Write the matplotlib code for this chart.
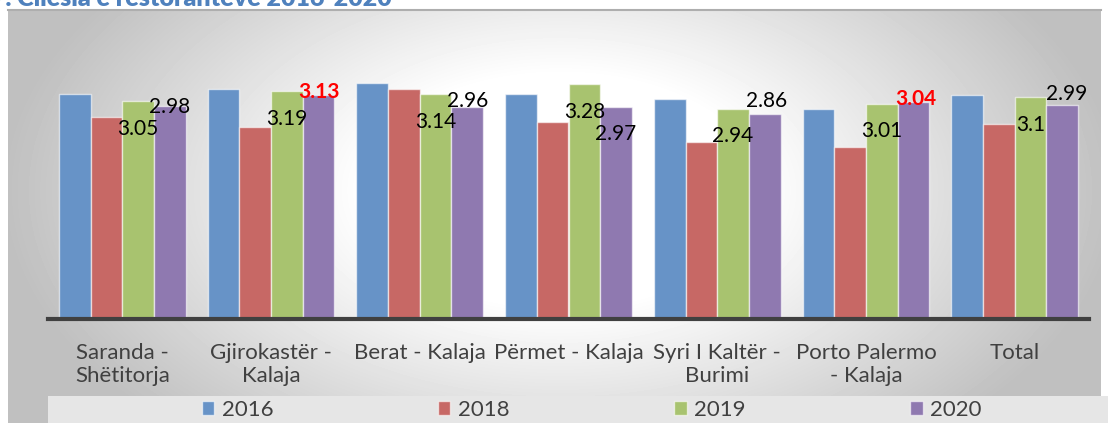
import numpy as np
import matplotlib.pyplot as plt
from matplotlib.patches import Rectangle

plt.rcParams['font.family'] = ['Lato', 'DejaVu Sans']

# data
categories = ['Saranda -\nShëtitorja', 'Gjirokastër -\nKalaja', 'Berat - Kalaja',
              'Përmet - Kalaja', 'Syri I Kaltër -\nBurimi', 'Porto Palermo\n- Kalaja', 'Total']
years = ['2016', '2018', '2019', '2020']
v2016 = [3.14, 3.22, 3.30, 3.14, 3.07, 2.93, 3.13]
v2018 = [2.83, 2.68, 3.21, 2.76, 2.48, 2.40, 2.73]
v2019 = [3.05, 3.19, 3.14, 3.28, 2.94, 3.01, 3.10]
v2020 = [2.98, 3.13, 2.96, 2.97, 2.86, 3.04, 2.99]
labels2019 = ['3.05', '3.19', '3.14', '3.28', '2.94', '3.01', '3.1']
labels2020 = ['2.98', '3.13', '2.96', '2.97', '2.86', '3.04', '2.99']
highlight2020 = [False, True, False, False, False, True, False]

colors = ['#6793C7', '#C76865', '#A8C36F', '#8F79B0']

W, H = 1108, 423
fig = plt.figure(figsize=(W / 100, H / 100), dpi=100)

# background panel with soft radial gradient
bg = fig.add_axes([0, 0, 1, 1], zorder=-5)
bg.set_xlim(0, W)
bg.set_ylim(H, 0)
bg.axis('off')
yy, xx = np.mgrid[9:H, 8:1101]
r = np.sqrt(((xx - 560) / 560.0) ** 2 + ((yy - 190) / 330.0) ** 2)
shade = 1 - 0.25 * np.clip((r - 0.35) / 0.65, 0, 1)
bg.imshow(shade, cmap='gray', vmin=0, vmax=1, extent=(8, 1101, H, 9), aspect='auto')
bg.plot([8, 1101], [10, 10], color='#aeaeae', lw=1.5)
bg.add_patch(Rectangle((48, 396), 1060, 27, color='#e6e6e6', lw=0))

# title is cropped at the top edge in the source picture
fig.text(-9 / W, 1 - 6 / H, '7. Cilësia e restoranteve 2016-2020', color='#4F81BD',
         fontsize=18, fontweight='heavy', va='baseline', ha='left')

# main chart
ax = fig.add_axes([48 / W, (H - 319) / H, 1041 / W, 279 / H])
ax.patch.set_alpha(0)
x = np.arange(len(categories))
bw = 0.213
series = [v2016, v2018, v2019, v2020]
bars = []
for i, vals in enumerate(series):
    b = ax.bar(x + (i - 1.5) * bw, vals, bw, color=colors[i],
               edgecolor=(1, 1, 1, 0.6), linewidth=1, label=years[i])
    bars.append(b)

ax.set_xlim(-0.5, len(categories) - 0.5)
ax.set_ylim(0, 3.9)
ax.set_yticks([])
for s in ['top', 'right', 'left']:
    ax.spines[s].set_visible(False)
ax.spines['bottom'].set_color('#404040')
ax.spines['bottom'].set_linewidth(3)
ax.set_xticks(x)
ax.set_xticklabels(categories, fontsize=16, color='#404040', linespacing=1.2)
ax.tick_params(axis='x', length=0, pad=17)

# 2019 labels sit inside the bar end
for rect, lab in zip(bars[2], labels2019):
    ax.annotate(lab, (rect.get_x() + rect.get_width() / 2, rect.get_height()),
                xytext=(0, -20), textcoords='offset points',
                ha='center', va='center', fontsize=15, color='black')

# 2020 labels are scattered around the bar top
off2020 = [(0, -0.7), (0, 2.5), (0, 4.3), (0, -19.5), (1, 9.9), (1.5, 1.7), (3.2, 8.1)]
for rect, lab, hl, (dx, dy) in zip(bars[3], labels2020, highlight2020, off2020):
    ax.annotate(lab, (rect.get_x() + rect.get_width() / 2, rect.get_height()),
                xytext=(dx, dy), textcoords='offset points',
                ha='center', va='center', fontsize=15,
                color='#FF0000' if hl else 'black',
                fontweight='bold' if hl else 'normal')

fig.legend(handles=bars, labels=years, loc='center', bbox_to_anchor=(592 / W, 1 - 410 / H),
           ncol=4, frameon=False, fontsize=16, handlelength=0.55, handleheight=0.55,
           handletextpad=0.35, columnspacing=7.4, labelcolor='#404040')

fig.savefig('out.png', dpi=100)
